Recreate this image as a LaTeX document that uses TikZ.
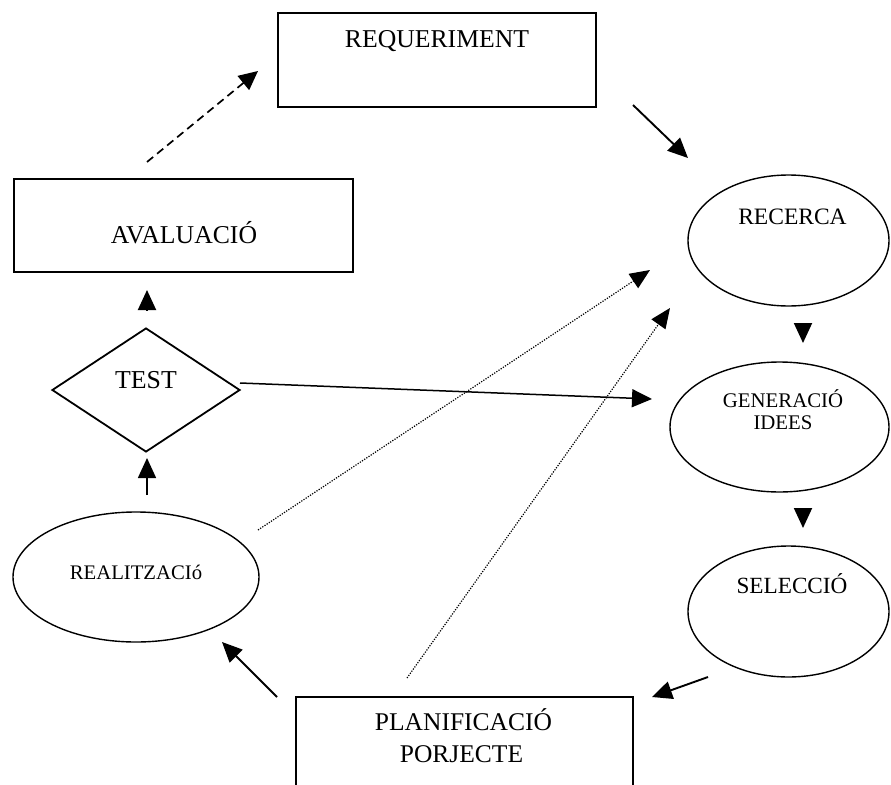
\documentclass[tikz,border=0pt]{standalone}
\usepackage{fontspec}
\setmainfont{Liberation Serif}
\usetikzlibrary{arrows.meta,shapes.geometric}
\newcommand{\fs}[1]{\fontsize{#1}{#1}\selectfont}
\tikzset{
  box/.style={draw, line width=1.6pt, rectangle, inner sep=0pt},
  oval/.style={draw, line width=1.4pt, ellipse, inner sep=0pt},
  lbl/.style={anchor=base, inner sep=0pt},
  flow/.style={line width=1.9pt, -{Triangle[length=20pt,width=18pt]}},
  thinflow/.style={line width=1.5pt, -{Triangle[length=20pt,width=18pt]}},
  dashflow/.style={line width=1.7pt, dash pattern=on 8pt off 5pt, -{Triangle[length=19pt,width=18pt]}},
  dotflow/.style={line width=1.2pt, dash pattern=on 1.2pt off 1.4pt, -{Triangle[length=20pt,width=17pt]}},
}
\begin{document}
\begin{tikzpicture}[x=1pt,y=-1pt]
\useasboundingbox (0,0) rectangle (891,784);
\clip (0,0) rectangle (891,784);
\fill[white] (0,0) rectangle (891,784);

% boxes and ovals
\node[box, minimum width=318pt, minimum height=94pt] (req) at (437,60) {};
\node[lbl] (reqt) at (437,48) {\fs{25.7}REQUERIMENT};

\node[box, minimum width=339pt, minimum height=93pt] (aval) at (183.5,225.5) {};
\node[lbl] (avalt) at (184,243) {\fs{25.7}AVALUACIÓ};

\node[box, diamond, aspect=1.52, minimum width=188pt, minimum height=124pt, line width=1.8pt] (test) at (146,390) {};
\node[lbl] (testt) at (146,388) {\fs{25.8}TEST};

\node[oval, minimum width=246pt, minimum height=130pt] (real) at (136,577) {};
\node[lbl] (realt) at (136,579) {\fs{20.7}REALITZACIó};

\node[box, minimum width=337pt, minimum height=140pt] (plan) at (464.5,767) {};
\node[lbl] (plant1) at (463.5,730) {\fs{25.5}PLANIFICACIÓ};
\node[lbl] (plant2) at (461.5,762) {\fs{25.5}PORJECTE};

\node[oval, minimum width=201pt, minimum height=131pt] (rec) at (788.5,240.5) {};
\node[lbl] (rect) at (792.5,224) {\fs{23.5}RECERCA};

\node[oval, minimum width=219pt, minimum height=130pt] (gen) at (779.5,427) {};
\node[lbl] (gent1) at (783,407) {\fs{20.8}GENERACIÓ};
\node[lbl] (gent2) at (783,429) {\fs{20.8}IDEES};

\node[oval, minimum width=201pt, minimum height=131pt] (sel) at (788.5,611.5) {};
\node[lbl] (selt) at (792,593) {\fs{23.2}SELECCIÓ};

% connector ends
\coordinate (e1a) at (147,162);  \coordinate (e1b) at (258,71);
\coordinate (e2a) at (633,105);  \coordinate (e2b) at (688,158);
\coordinate (e3a) at (803,323);  \coordinate (e3b) at (803,343);
\coordinate (e4a) at (803,508);  \coordinate (e4b) at (803,528);
\coordinate (e5a) at (708,677);  \coordinate (e5b) at (652,697);
\coordinate (e6a) at (277,697);  \coordinate (e6b) at (222,642);
\coordinate (e7a) at (147,495);  \coordinate (e7b) at (147,458);
\coordinate (e8a) at (147,310);  \coordinate (e8b) at (147,290);
\coordinate (e9a) at (240,383);  \coordinate (e9b) at (652,399);
\coordinate (e10a) at (258,530); \coordinate (e10b) at (650,270);
\coordinate (e11a) at (407,678); \coordinate (e11b) at (670,308);

% connectors
\draw[dashflow] (e1a) -- (e1b);
\draw[flow] (e2a) -- (e2b);
\draw[flow] (e3a) -- (e3b);
\draw[flow] (e4a) -- (e4b);
\draw[flow] (e5a) -- (e5b);
\draw[flow] (e6a) -- (e6b);
\draw[thinflow] (e7a) -- (e7b);
\draw[flow] (e8a) -- (e8b);
\draw[thinflow] (e9a) -- (e9b);
\draw[dotflow] (e10a) -- (e10b);
\draw[dotflow] (e11a) -- (e11b);
\end{tikzpicture}
\end{document}
